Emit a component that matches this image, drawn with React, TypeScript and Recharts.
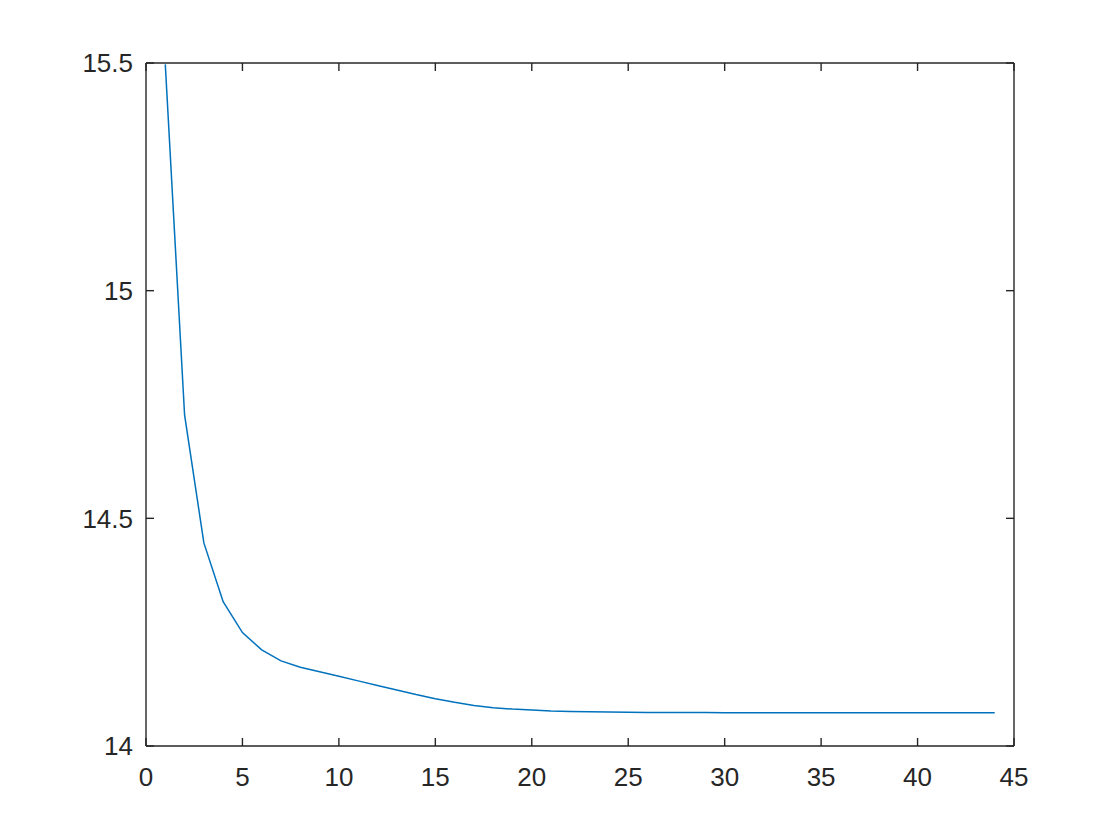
import React from 'react';
import { LineChart, Line, XAxis, YAxis } from 'recharts';

const xValues = [1,2,3,4,5,6,7,8,9,10,11,12,13,14,15,16,17,18,19,20,21,22,23,24,25,26,27,28,29,30,31,32,33,34,35,36,37,38,39,40,41,42,43,44];
const yValues = [15.497,14.727,14.446,14.317,14.249,14.211,14.187,14.173,14.163,14.153,14.143,14.133,14.123,14.113,14.104,14.096,14.089,14.084,14.081,14.079,14.077,14.076,14.075,14.0745,14.074,14.0738,14.0736,14.0734,14.0733,14.0732,14.0731,14.073,14.073,14.073,14.073,14.073,14.073,14.073,14.073,14.073,14.073,14.073,14.073,14.073];
const xTicks = [0,5,10,15,20,25,30,35,40,45];
const yTicks = [14,14.5,15,15.5];

const data = xValues.map((x, i) => ({ x, y: yValues[i] }));

const TXT = '#262626';
const FONT = '"Liberation Sans", Arial, Helvetica, sans-serif';
const SW = 1.4;

const BottomTick = (p: any) => (
  <g>
    <line x1={p.x} x2={p.x} y1={p.y} y2={p.y - 8} stroke={TXT} strokeWidth={SW} />
    <text x={p.x} y={p.y + 40} textAnchor="middle" fill={TXT} fontSize={26} fontFamily={FONT}>{p.payload.value}</text>
  </g>
);
const TopTick = (p: any) => (
  <line x1={p.x} x2={p.x} y1={p.y} y2={p.y + 8} stroke={TXT} strokeWidth={SW} />
);
const LeftTick = (p: any) => (
  <g>
    <line x1={p.x} x2={p.x + 8} y1={p.y} y2={p.y} stroke={TXT} strokeWidth={SW} />
    <text x={p.x - 13} y={p.y} dy="0.36em" textAnchor="end" fill={TXT} fontSize={26} fontFamily={FONT}>{p.payload.value}</text>
  </g>
);
const RightTick = (p: any) => (
  <line x1={p.x} x2={p.x - 8} y1={p.y} y2={p.y} stroke={TXT} strokeWidth={SW} />
);

export default function App() {
  return (
    <div style={{ position: 'absolute', left: 0, top: 0, width: 1120, height: 840, background: '#fff' }}>
      <LineChart width={1120} height={840} data={data} margin={{ top: 62, left: 86, right: 105, bottom: 64 }}>
        <XAxis dataKey="x" type="number" domain={[0, 45]} ticks={xTicks} xAxisId="b" orientation="bottom" height={30}
          axisLine={{ stroke: TXT, strokeWidth: SW }} tickLine={false} tickSize={0} tickMargin={0} tick={<BottomTick />} interval={0} allowDataOverflow />
        <XAxis dataKey="x" type="number" domain={[0, 45]} ticks={xTicks} xAxisId="t" orientation="top" height={1}
          axisLine={{ stroke: TXT, strokeWidth: SW }} tickLine={false} tickSize={0} tickMargin={0} tick={<TopTick />} interval={0} />
        <YAxis dataKey="y" type="number" domain={[14, 15.5]} ticks={yTicks} yAxisId="l" orientation="left" width={60}
          axisLine={{ stroke: TXT, strokeWidth: SW }} tickLine={false} tickSize={0} tickMargin={0} tick={<LeftTick />} interval={0} allowDataOverflow />
        <YAxis dataKey="y" type="number" domain={[14, 15.5]} ticks={yTicks} yAxisId="r" orientation="right" width={1}
          axisLine={{ stroke: TXT, strokeWidth: SW }} tickLine={false} tickSize={0} tickMargin={0} tick={<RightTick />} interval={0} allowDataOverflow />
        <Line xAxisId="b" yAxisId="l" dataKey="y" type="linear" stroke="#0072BD" strokeWidth={1.5} dot={false} isAnimationActive={false} />
      </LineChart>
    </div>
  );
}
